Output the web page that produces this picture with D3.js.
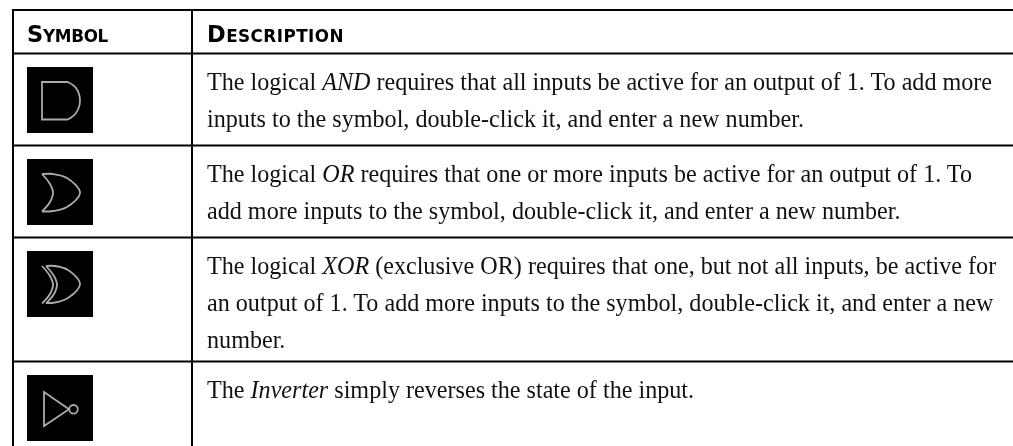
<!DOCTYPE html>
<html>
<head>
<meta charset="utf-8">
<script src="https://cdn.jsdelivr.net/npm/d3@7"></script>
<style>
    html, body { margin: 0; padding: 0; background: #fff; overflow: hidden; }
    svg { filter: blur(0.35px); }
    .head { font-family: "DejaVu Sans", sans-serif; font-weight: bold; font-size: 22.5px; fill: #000; }
    .head .rest { font-size: 16.8px; }
    .body-text { font-family: "Liberation Serif", serif; font-size: 24.13px; fill: #111; }
    .glyph { fill: none; stroke: #aaa; stroke-width: 1.8; }
</style>
</head>
<body>
<div id="chart"></div>
<script>
// Table content, *stars* mark italic words
const headers = ["Symbol", "Description"];
const symbols = ["and", "or", "xor", "inverter"];
const descriptions = [
    ["The logical *AND* requires that all inputs be active for an output of 1. To add more",
     "inputs to the symbol, double-click it, and enter a new number."],
    ["The logical *OR* requires that one or more inputs be active for an output of 1. To",
     "add more inputs to the symbol, double-click it, and enter a new number."],
    ["The logical *XOR* (exclusive OR) requires that one, but not all inputs, be active for",
     "an output of 1. To add more inputs to the symbol, double-click it, and enter a new",
     "number."],
    ["The *Inverter* simply reverses the state of the input."]
];

const width = 1013;
const height = 446;
const left = 13;
const top_ = 10;
const headerHeight = 43.5;
const colX = 192;
const minRow = 92;
const lineStep = 37;
const firstBaseline = 36.5;
const box = 66;

const svg = d3.select("#chart")
    .append("svg")
    .attr("width", width)
    .attr("height", height)
    .style("display", "block");

// Row tops come from the number of text lines in each row
const rowHeight = lines => Math.max(minRow, 36 + lineStep * (lines.length - 1) + 14);
const rowTops = d3.cumsum([top_ + headerHeight, ...descriptions.map(rowHeight)]);

// Grid lines
const rules = [top_, ...rowTops.slice(0, descriptions.length)];
svg.selectAll("line.rule")
    .data(rules)
    .join("line")
    .attr("class", "rule")
    .attr("x1", left - 1)
    .attr("x2", width)
    .attr("y1", d => d)
    .attr("y2", d => d)
    .attr("stroke", "#000")
    .attr("stroke-width", 2);

svg.selectAll("line.col")
    .data([left, colX])
    .join("line")
    .attr("class", "col")
    .attr("x1", d => d)
    .attr("x2", d => d)
    .attr("y1", top_ - 1)
    .attr("y2", height)
    .attr("stroke", "#000")
    .attr("stroke-width", 2);

// Header, hand made small caps so the ratio can follow the picture
const heads = svg.selectAll("text.head")
    .data(headers)
    .join("text")
    .attr("class", "head")
    .attr("x", (d, i) => i === 0 ? 27 : 207)
    .attr("y", 41.5)
    .style("letter-spacing", (d, i) => i === 0 ? "-0.3px" : "0.45px");

heads.append("tspan").text(d => d[0]);
heads.append("tspan").attr("class", "rest").text(d => d.slice(1).toUpperCase());

// Description text
const rows = svg.selectAll("g.row")
    .data(descriptions)
    .join("g")
    .attr("class", "row")
    .attr("transform", (d, i) => `translate(0, ${rowTops[i]})`);

rows.each(function(lines) {
    const textLines = d3.select(this).selectAll("text")
        .data(lines)
        .join("text")
        .attr("class", "body-text")
        .attr("x", 207)
        .attr("y", (d, i) => firstBaseline + i * lineStep);

    textLines.selectAll("tspan")
        .data(d => d.split("*"))
        .join("tspan")
        .style("font-style", (d, i) => i % 2 ? "italic" : "normal")
        .text(d => d);
});

// Glyph outlines, drawn in the box's own units
const curve = d3.line().curve(d3.curveCatmullRom.alpha(0.5));
const back = dx => curve([[15 + dx, 15], [23 + dx, 25], [26 + dx, 33.5], [23 + dx, 43], [15 + dx, 52.5]]);

const drawGlyph = {
    and: g => {
        g.append("path").attr("d", d3.line()([[41, 52.5], [15, 52.5], [15, 15], [41, 15]]));
        g.append("path").attr("d", curve([[41, 15], [49, 21], [53, 33.7], [49, 46], [41, 52.5]]));
    },
    or: g => {
        g.append("path").attr("d", back(0));
        g.append("path").attr("d", curve([[15, 15], [26, 15], [40, 19], [53, 33.7], [40, 48], [26, 52], [15, 52.5]]));
    },
    xor: g => {
        g.append("path").attr("d", back(0));
        g.append("path").attr("d", back(4));
        g.append("path").attr("d", curve([[19, 15], [28, 15], [41, 19], [53, 33], [41, 47], [28, 51.5], [19, 52]]));
    },
    inverter: g => {
        g.append("path").attr("d", d3.line()([[17, 17], [42, 34.3], [17, 51]]) + "Z");
        g.append("circle").attr("cx", 46.5).attr("cy", 34.3).attr("r", 4.3);
    }
};

rows.append("rect")
    .attr("x", 27)
    .attr("y", 13.5)
    .attr("width", box)
    .attr("height", box)
    .attr("fill", "#000");

rows.append("g")
    .attr("class", "glyph")
    .attr("transform", "translate(27, 13.5)")
    .each(function(d, i) { drawGlyph[symbols[i]](d3.select(this)); });
</script>
</body>
</html>
